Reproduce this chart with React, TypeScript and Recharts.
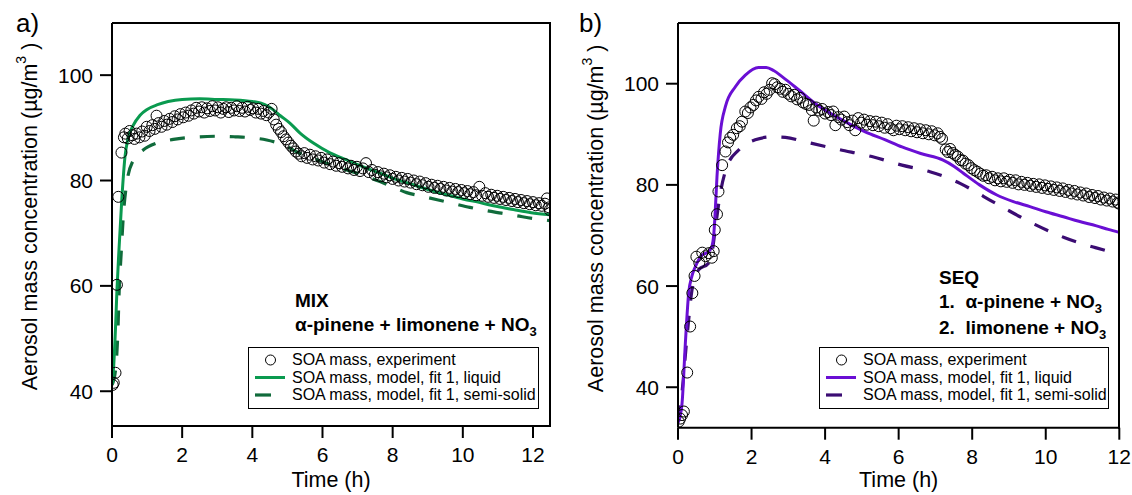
import React from "react";
import { ComposedChart, Line, Scatter, XAxis, YAxis } from "recharts";

const FONT = '"Liberation Sans", Arial, Helvetica, sans-serif';

type Pt = [number, number];

// shared axis ticks
const timeTicks = [0, 2, 4, 6, 8, 10, 12];
const massTicks = [40, 60, 80, 100];

// panel a) MIX: time (h), SOA mass (ug/m3)
const mixExperiment: Pt[] = [
  [0.02, 41.2], [0.05, 41.6], [0.1, 43.5], [0.14, 60.2], [0.18, 76.9], [0.27, 85.3], [0.34, 88.2], [0.38, 88.9],
  [0.45, 88.0], [0.5, 89.4], [0.58, 88.6], [0.64, 87.9], [0.7, 88.9], [0.78, 88.2], [0.86, 89.3], [0.93, 88.5],
  [0.99, 90.2], [1.07, 89.4], [1.15, 90.5], [1.22, 89.8], [1.27, 92.3], [1.33, 90.9], [1.41, 90.2], [1.49, 91.3],
  [1.56, 90.6], [1.64, 91.7], [1.72, 91.1], [1.79, 92.2], [1.87, 91.6], [1.95, 92.6], [2.03, 92.0], [2.1, 92.9],
  [2.18, 92.3], [2.26, 93.3], [2.33, 92.7], [2.4, 93.8], [2.48, 93.1], [2.56, 93.9], [2.63, 92.9], [2.71, 93.7],
  [2.79, 93.2], [2.86, 94.1], [2.94, 93.3], [3.02, 93.9], [3.1, 92.9], [3.17, 93.6], [3.25, 93.9], [3.33, 93.0],
  [3.4, 93.8], [3.48, 93.3], [3.56, 94.1], [3.63, 93.2], [3.71, 93.8], [3.79, 93.1], [3.87, 94.0], [3.94, 93.4],
  [4.02, 93.7], [4.1, 92.9], [4.17, 93.6], [4.25, 92.7], [4.32, 93.2], [4.4, 92.4], [4.47, 92.9], [4.55, 93.6],
  [4.61, 91.6], [4.68, 90.6], [4.75, 89.8], [4.82, 89.2], [4.89, 88.4], [4.96, 87.8], [5.03, 87.2], [5.1, 86.6],
  [5.17, 86.1], [5.24, 85.5], [5.32, 85.1], [5.4, 84.6], [5.48, 85.2], [5.56, 84.3], [5.64, 84.9], [5.72, 84.0],
  [5.8, 84.6], [5.88, 83.8], [5.96, 84.3], [6.05, 83.4], [6.13, 84.0], [6.22, 83.1], [6.3, 83.6], [6.39, 82.8],
  [6.47, 83.3], [6.56, 82.6], [6.64, 83.1], [6.73, 82.3], [6.81, 82.8], [6.9, 82.0], [6.98, 82.6], [7.07, 81.8],
  [7.15, 82.3], [7.24, 83.3], [7.32, 81.6], [7.41, 82.0], [7.49, 81.1], [7.58, 81.6], [7.66, 80.8], [7.75, 81.3],
  [7.83, 80.6], [7.92, 81.0], [8.0, 80.3], [8.09, 80.7], [8.17, 80.0], [8.26, 80.5], [8.34, 79.8], [8.43, 80.3],
  [8.51, 79.6], [8.6, 80.0], [8.68, 79.3], [8.77, 79.8], [8.85, 79.1], [8.94, 79.5], [9.02, 78.8], [9.11, 79.2],
  [9.19, 78.6], [9.28, 79.0], [9.36, 78.4], [9.45, 78.8], [9.53, 78.1], [9.62, 78.6], [9.7, 77.9], [9.79, 78.4],
  [9.87, 77.8], [9.96, 78.2], [10.04, 77.6], [10.13, 78.0], [10.21, 77.4], [10.3, 77.8], [10.38, 77.2], [10.47, 78.8],
  [10.55, 77.1], [10.64, 77.6], [10.72, 76.9], [10.81, 77.3], [10.89, 76.7], [10.98, 77.1], [11.06, 76.5], [11.15, 76.9],
  [11.23, 76.3], [11.32, 76.7], [11.4, 76.1], [11.49, 76.5], [11.57, 75.9], [11.66, 76.3], [11.74, 75.7], [11.83, 76.1],
  [11.91, 75.5], [12.0, 75.9], [12.08, 75.3], [12.17, 75.7], [12.25, 75.2], [12.34, 75.6], [12.4, 76.6], [12.46, 74.9],
  [12.48, 74.4],
];
const mixLiquid: Pt[] = [
  [0, 41.2], [0.05, 45], [0.1, 52], [0.14, 59], [0.2, 67], [0.28, 76.5], [0.37, 84.5], [0.45, 87.8], [0.6, 90.4],
  [0.8, 92.4], [1.0, 93.5], [1.3, 94.4], [1.6, 95.0], [2.0, 95.4], [2.5, 95.5], [3.0, 95.4], [3.5, 95.3], [4.0, 95.0],
  [4.25, 94.7], [4.45, 94.1], [4.6, 93.4], [4.8, 92.3], [5.07, 90.9], [5.36, 89.0], [5.74, 87.1], [6.2, 85.3],
  [6.69, 83.9], [7.2, 82.5], [7.64, 81.4], [8.1, 80.2], [8.59, 79.2], [9.05, 78.2], [9.54, 77.3], [10.0, 76.5],
  [10.49, 75.8], [10.95, 75.1], [11.44, 74.5], [11.95, 73.9], [12.48, 73.5],
];
const mixSemiSolid: Pt[] = [
  [0, 41.2], [0.1, 44], [0.16, 50], [0.21, 60], [0.26, 66], [0.32, 73], [0.42, 79.5], [0.61, 83.9], [0.89, 85.8],
  [1.27, 87.1], [1.75, 87.8], [2.5, 88.3], [3.0, 88.4], [3.5, 88.3], [4.0, 88.1], [4.41, 87.7], [4.7, 87.2],
  [4.88, 86.8], [5.27, 85.4], [5.74, 84.2], [6.2, 83.1], [6.69, 82.0], [7.2, 80.9], [7.64, 79.8], [8.0, 78.8],
  [8.4, 77.7], [8.85, 77.0], [9.3, 76.3], [9.75, 75.6], [10.2, 74.9], [10.65, 74.3], [11.1, 73.8], [11.55, 73.3],
  [12.0, 72.8], [12.48, 72.4],
];

// panel b) SEQ
const seqExperiment: Pt[] = [
  [0.02, 33.2], [0.06, 33.8], [0.11, 34.5], [0.16, 35.2], [0.25, 42.9], [0.33, 52.0], [0.39, 58.6], [0.45, 62.0],
  [0.5, 65.8], [0.58, 64.6], [0.66, 66.6], [0.75, 65.9], [0.84, 66.5], [0.92, 65.6], [0.97, 66.9], [1.0, 71.1],
  [1.06, 74.2], [1.1, 78.7], [1.2, 83.9], [1.29, 86.6], [1.36, 88.4], [1.42, 89.3], [1.5, 89.9], [1.6, 91.2],
  [1.68, 91.6], [1.74, 92.5], [1.83, 94.5], [1.9, 94.2], [1.97, 95.3], [2.05, 95.8], [2.12, 96.7], [2.19, 97.4],
  [2.27, 97.0], [2.34, 98.3], [2.41, 98.0], [2.49, 98.8], [2.56, 100.1], [2.63, 99.9], [2.7, 99.3], [2.78, 99.0],
  [2.85, 98.4], [2.92, 98.8], [3.0, 98.0], [3.08, 97.5], [3.16, 97.8], [3.24, 96.9], [3.32, 97.2], [3.4, 96.3],
  [3.48, 96.0], [3.56, 95.8], [3.64, 94.8], [3.69, 92.7], [3.76, 95.3], [3.84, 94.7], [3.92, 95.0], [4.0, 94.1],
  [4.08, 94.4], [4.16, 93.8], [4.22, 94.5], [4.28, 91.8], [4.36, 93.4], [4.44, 92.9], [4.52, 93.5], [4.6, 92.4],
  [4.66, 91.8], [4.74, 92.7], [4.82, 90.8], [4.9, 93.2], [4.98, 92.3], [5.06, 92.9], [5.14, 91.9], [5.22, 92.6],
  [5.3, 91.8], [5.38, 92.5], [5.46, 91.6], [5.54, 92.3], [5.62, 91.3], [5.7, 92.0], [5.78, 91.2], [5.86, 90.8],
  [5.94, 91.7], [6.02, 91.0], [6.1, 91.6], [6.18, 90.8], [6.26, 91.4], [6.34, 90.6], [6.42, 91.2], [6.5, 90.4],
  [6.58, 91.0], [6.66, 90.2], [6.74, 90.8], [6.82, 90.0], [6.9, 90.6], [6.98, 89.8], [7.06, 90.2], [7.12, 89.5],
  [7.18, 89.1], [7.28, 87.0], [7.34, 86.5], [7.4, 87.1], [7.47, 86.3], [7.54, 85.9], [7.61, 85.6], [7.68, 84.9],
  [7.75, 84.8], [7.82, 84.2], [7.9, 83.9], [7.98, 83.3], [8.06, 82.9], [8.14, 82.6], [8.22, 82.2], [8.3, 81.8],
  [8.38, 81.9], [8.46, 81.3], [8.54, 81.6], [8.62, 80.9], [8.7, 81.3], [8.78, 80.7], [8.86, 81.3], [8.94, 80.6],
  [9.02, 81.0], [9.1, 80.4], [9.18, 80.9], [9.26, 80.1], [9.34, 80.6], [9.42, 80.0], [9.5, 80.4], [9.58, 79.8],
  [9.66, 80.2], [9.74, 79.6], [9.82, 80.1], [9.9, 79.4], [9.98, 79.9], [10.06, 79.2], [10.14, 79.7], [10.22, 79.0],
  [10.3, 79.5], [10.38, 78.8], [10.46, 79.3], [10.54, 78.6], [10.62, 79.0], [10.7, 78.3], [10.78, 78.8], [10.86, 78.1],
  [10.94, 78.5], [11.02, 77.9], [11.1, 78.3], [11.18, 77.6], [11.26, 78.0], [11.34, 77.4], [11.42, 77.8], [11.5, 77.1],
  [11.58, 77.5], [11.66, 76.9], [11.74, 77.3], [11.82, 76.7], [11.9, 77.1], [11.96, 76.5], [11.99, 76.3],
];
const seqLiquid: Pt[] = [
  [0, 33], [0.05, 34], [0.11, 36.8], [0.2, 48.7], [0.29, 58.6], [0.38, 62], [0.47, 63.8], [0.65, 66.1], [0.83, 66.8],
  [0.92, 67.8], [0.97, 70], [1.0, 73.1], [1.06, 81.6], [1.15, 90.2], [1.29, 95.5], [1.56, 99.4], [1.83, 101.7],
  [2.19, 103.2], [2.4, 103.2], [2.6, 102.6], [2.83, 101.4], [3.28, 98.8], [3.73, 96.1], [4.37, 93.2], [5.09, 90.5],
  [5.64, 88.9], [6.09, 87.5], [6.6, 86.2], [7.21, 84.9], [7.5, 83.7], [7.76, 82.3], [8.2, 80.0], [8.67, 78.0],
  [9.12, 76.7], [9.57, 75.7], [10.0, 74.7], [10.48, 73.7], [10.9, 72.8], [11.38, 71.9], [11.7, 71.2], [12.0, 70.6],
];
const seqSemiSolid: Pt[] = [
  [0, 33.5], [0.08, 37], [0.15, 42.1], [0.22, 48], [0.29, 53.3], [0.38, 59.2], [0.56, 63.2], [0.83, 64.5], [0.9, 65.5],
  [1.01, 71.1], [1.15, 78.3], [1.33, 83.6], [1.65, 86.9], [2.1, 88.9], [2.56, 89.5], [2.92, 89.4], [3.46, 88.5],
  [4.37, 87.0], [5.27, 85.6], [6.09, 83.9], [6.85, 82.6], [7.3, 81.5], [7.67, 80.3], [8.1, 78.6], [8.48, 77.0],
  [8.9, 75.3], [9.3, 73.7], [9.7, 72.2], [10.11, 70.8], [10.5, 69.6], [10.93, 68.5], [11.35, 67.6], [11.75, 66.8],
  [12.0, 66.3],
];

const toRows = (pts: Pt[]) => pts.map(([t, v]) => ({ t, v }));

const W = 566;
const H = 495;
const INK = "#000";
const RULE = 2;

interface PanelProps {
  letter: string;
  left: number;
  margin: { top: number; right: number; bottom: number; left: number };
  xDomain: [number, number];
  yDomain: [number, number];
  experiment: Pt[];
  liquid: Pt[];
  semiSolid: Pt[];
  liquidColor: string;
  semiColor: string;
  labelShift: number;
  note: React.ReactNode;
  noteLeft: number;
  noteTop: number;
  legendLeft: number;
  legendWidth: number;
}

const Ring = (props: any) => {
  const { cx, cy } = props;
  if (cx == null || cy == null) return <g />;
  return <circle cx={cx} cy={cy} r={5.5} fill="none" stroke={INK} strokeWidth={1} />;
};

const Sub = ({ children }: { children: React.ReactNode }) => (
  <span style={{ fontSize: 13, position: "relative", top: 5 }}>{children}</span>
);

const Panel: React.FC<PanelProps> = (p) => {
  const plotLeft = p.margin.left + 60;
  const plotRight = W - p.margin.right;
  const plotTop = p.margin.top;
  const plotBottom = H - p.margin.bottom - 60;
  const cx = (plotLeft + plotRight) / 2;
  const cy = (plotTop + plotBottom) / 2 - p.labelShift;
  const tickStyle = { fill: INK, fontSize: 21, fontFamily: FONT };

  const yLabel = () => (
    <text
      x={37}
      y={cy}
      transform={`rotate(-90, 37, ${cy})`}
      textAnchor="middle"
      fontSize={21.5}
      fontFamily={FONT}
      fill={INK}
    >
      Aerosol mass concentration (µg/m
      <tspan dy={-11} fontSize={14}>3</tspan>
      <tspan dy={11}> )</tspan>
    </text>
  );
  const xLabel = () => (
    <text x={cx} y={487} textAnchor="middle" fontSize={21.5} fontFamily={FONT} fill={INK}>
      Time (h)
    </text>
  );

  const rowText: React.CSSProperties = {
    position: "absolute",
    left: 43,
    fontSize: 16,
    lineHeight: "17px",
    fontFamily: FONT,
    whiteSpace: "nowrap",
  };

  return (
    <div style={{ position: "absolute", left: p.left, top: 0, width: W, height: H }}>
      <ComposedChart width={W} height={H} margin={p.margin}>
        <XAxis
          dataKey="t"
          type="number"
          domain={p.xDomain}
          ticks={timeTicks}
          interval={0}
          allowDataOverflow
          height={60}
          tickSize={12}
          tickMargin={9}
          axisLine={{ stroke: INK, strokeWidth: RULE }}
          tickLine={{ stroke: INK, strokeWidth: RULE }}
          tick={tickStyle}
          label={xLabel}
        />
        <YAxis
          type="number"
          domain={p.yDomain}
          ticks={massTicks}
          interval={0}
          allowDataOverflow
          width={60}
          tickSize={12}
          tickMargin={7}
          axisLine={{ stroke: INK, strokeWidth: RULE }}
          tickLine={{ stroke: INK, strokeWidth: RULE }}
          tick={tickStyle}
          label={yLabel}
        />
        <Line
          data={toRows(p.semiSolid)}
          dataKey="v"
          type="monotone"
          stroke={p.semiColor}
          strokeWidth={3.2}
          strokeDasharray="15 15"
          dot={false}
          isAnimationActive={false}
        />
        <Scatter data={toRows(p.experiment)} dataKey="v" shape={<Ring />} isAnimationActive={false} />
        <Line
          data={toRows(p.liquid)}
          dataKey="v"
          type="monotone"
          stroke={p.liquidColor}
          strokeWidth={3}
          dot={false}
          isAnimationActive={false}
        />
      </ComposedChart>

      {/* top and right edges of the plot box */}
      <div
        style={{
          position: "absolute",
          left: plotLeft,
          top: plotTop - 1,
          width: plotRight - plotLeft - 1,
          height: plotBottom - plotTop,
          borderTop: `${RULE}px solid ${INK}`,
          borderRight: `${RULE}px solid ${INK}`,
        }}
      />

      <div style={{ position: "absolute", left: p.letter === "a)" ? 16 : 13, top: 8, fontSize: 26, fontFamily: FONT }}>
        {p.letter}
      </div>

      <div
        style={{
          position: "absolute",
          left: p.noteLeft,
          top: p.noteTop,
          fontSize: 19,
          fontWeight: "bold",
          lineHeight: "24px",
          fontFamily: FONT,
          whiteSpace: "pre",
        }}
      >
        {p.note}
      </div>

      <div
        style={{
          position: "absolute",
          left: p.legendLeft,
          top: 347,
          width: p.legendWidth,
          height: 62,
          border: `1.5px solid ${INK}`,
          boxSizing: "border-box",
          background: "#fff",
        }}
      >
        <svg width={40} height={60} style={{ position: "absolute", left: 0, top: 0 }}>
          <circle cx={21.5} cy={12} r={5} fill="none" stroke={INK} strokeWidth={1} />
          <line x1={6} x2={36} y1={29.5} y2={29.5} stroke={p.liquidColor} strokeWidth={3} />
          <line x1={6} x2={22} y1={47} y2={47} stroke={p.semiColor} strokeWidth={3.2} />
        </svg>
        <div style={{ ...rowText, top: 3 }}>SOA mass, experiment</div>
        <div style={{ ...rowText, top: 20.5 }}>SOA mass, model, fit 1, liquid</div>
        <div style={{ ...rowText, top: 38 }}>SOA mass, model, fit 1, semi-solid</div>
      </div>
    </div>
  );
};

const App: React.FC = () => (
  <div style={{ position: "absolute", left: 0, top: 0, width: 1132, height: 495, background: "#fff" }}>
    <Panel
      letter="a)"
      left={0}
      margin={{ top: 23, right: 16, bottom: 9, left: 52 }}
      xDomain={[0, 12.485]}
      yDomain={[33.4, 109.9]}
      experiment={mixExperiment}
      liquid={mixLiquid}
      semiSolid={mixSemiSolid}
      liquidColor="#0a9a4f"
      semiColor="#106b3b"
      labelShift={8}
      noteLeft={295}
      noteTop={289}
      note={
        <>
          {"MIX\n"}α-pinene + limonene + NO<Sub>3</Sub>
        </>
      }
      legendLeft={248}
      legendWidth={291}
    />
    <Panel
      letter="b)"
      left={566}
      margin={{ top: 23, right: 12.7, bottom: 7.3, left: 52 }}
      xDomain={[0, 12]}
      yDomain={[32, 112]}
      experiment={seqExperiment}
      liquid={seqLiquid}
      semiSolid={seqSemiSolid}
      liquidColor="#6a0fd4"
      semiColor="#3b0c73"
      labelShift={7}
      noteLeft={373}
      noteTop={266}
      note={
        <>
          {"SEQ\n1.  α-pinene + NO"}
          <Sub>3</Sub>
          {"\n2.  limonene + NO"}
          <Sub>3</Sub>
        </>
      }
      legendLeft={253}
      legendWidth={290}
    />
  </div>
);

export default App;
